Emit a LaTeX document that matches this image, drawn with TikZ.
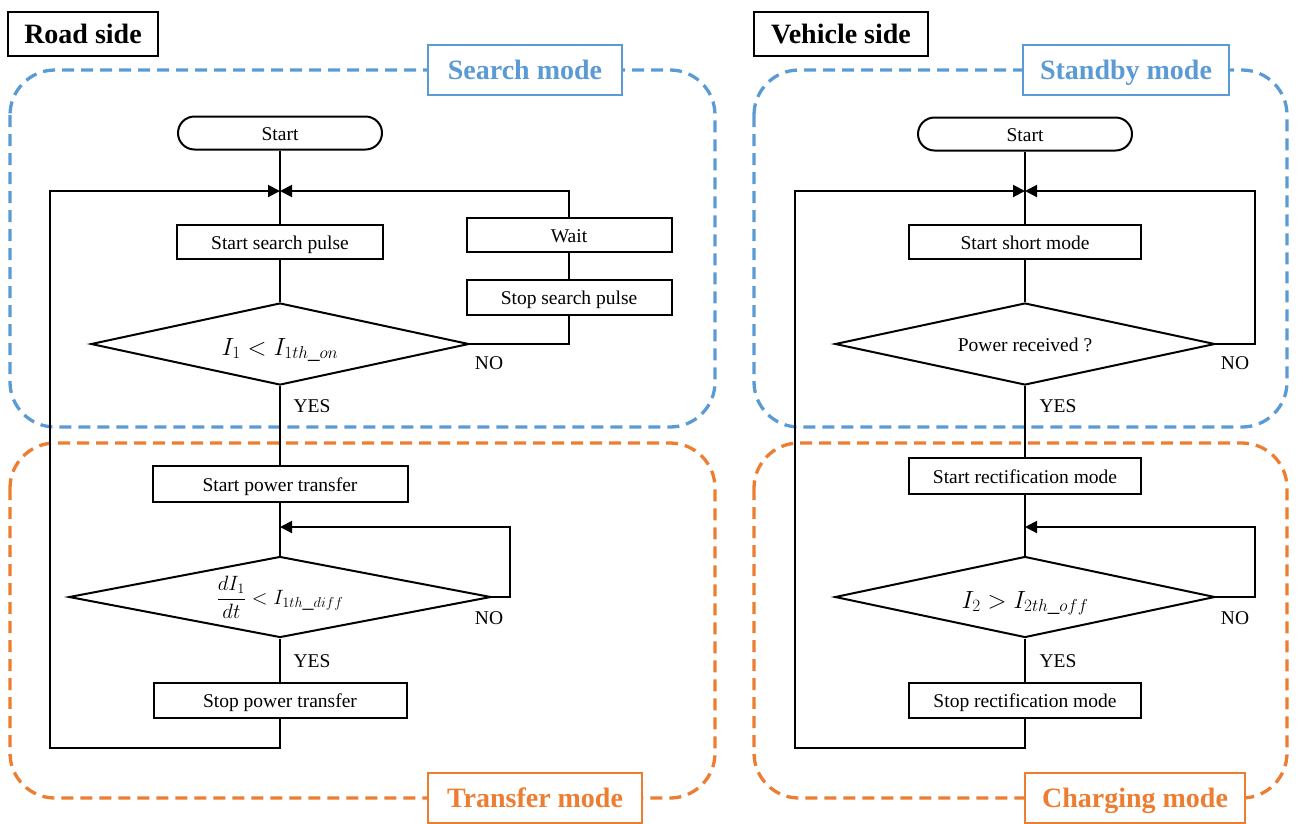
\documentclass[tikz,border=0pt]{standalone}
\usepackage{fontspec}
\setmainfont{Liberation Serif}
\usetikzlibrary{arrows.meta,shapes.geometric,shapes.misc}
\definecolor{modeblue}{HTML}{5B9BD5}
\definecolor{modeorange}{HTML}{ED7D31}
\begin{document}
\begin{tikzpicture}[x=1pt,y=-1pt,
  flow/.style={line width=2pt},
  tip/.style={-{Triangle[length=12pt,width=12pt]}},
  proc/.style={draw, line width=2pt, rectangle, inner sep=0pt,
    text height=14pt, text depth=0pt, font=\fontsize{19.5}{22}\selectfont},
  term/.style={draw, line width=2pt, rounded rectangle, inner sep=0pt,
    text height=14pt, text depth=0pt,
    minimum height=33pt, font=\fontsize{19.5}{22}\selectfont},
  dec/.style={draw, line width=2pt, diamond, aspect=4.6, inner sep=0pt,
    text height=14pt, text depth=0pt, font=\fontsize{19.5}{22}\selectfont},
  mathtxt/.style={font=\fontsize{23}{26}\selectfont},
  inlinemath/.style={text height=22pt, text depth=0pt},
  fracmath/.style={text height=, text depth=, font=\fontsize{22}{25}\selectfont},
  lbl/.style={font=\fontsize{19.5}{22}\selectfont, inner sep=0pt},
  sidebox/.style={draw, line width=2.5pt, inner sep=0pt, minimum height=44pt,
    text height=19pt, text depth=0pt, font=\fontsize{28}{32}\selectfont\bfseries},
  modelabel/.style={draw=#1, text=#1, fill=white, line width=2.5pt, inner sep=0pt,
    minimum height=50pt, text height=19pt, text depth=0pt,
    font=\fontsize{28}{32}\selectfont\bfseries},
  modebox/.style={draw=#1, line width=3.3pt, dash pattern=on 12pt off 7pt, rounded corners=45pt}
]
\useasboundingbox (0,0) rectangle (1303,823);

% ---------- mode regions ----------
\draw[modebox=modeblue]   (10,70)  rectangle (715,427);
\draw[modebox=modeorange] (10,443) rectangle (715,798);
\draw[modebox=modeblue]   (754,70)  rectangle (1287,427);
\draw[modebox=modeorange] (754,443) rectangle (1287,798);

% ---------- side titles ----------
\node[sidebox, minimum width=150pt] (road) at (83,34) {Road side};
\node[sidebox, minimum width=174pt] (veh) at (841,34) {Vehicle side};

% ---------- road side flow ----------
\node[term, minimum width=204pt] (L0) at (280,133) {Start};
\coordinate (Lj) at (280,191);
\node[proc, minimum width=206pt, minimum height=34pt] (L1) at (280,242) {Start search pulse};
\node[proc, minimum width=205pt, minimum height=34pt] (Lw) at (569,235) {Wait};
\node[proc, minimum width=205pt, minimum height=35pt] (Ls) at (569,297) {Stop search pulse};
\node[dec, mathtxt, inlinemath, minimum width=378pt, minimum height=82pt] (Ld1) at (280,344) {$I_1 < I_{1th\_on}$};
\node[proc, minimum width=255pt, minimum height=36pt] (L2) at (280,484) {Start power transfer};
\coordinate (Lj2) at (280,527);
\coordinate (Lr) at (510,527);
\node[dec, fracmath, minimum width=422pt, minimum height=81pt] (Ld2) at (280,597)
  {$\displaystyle\frac{dI_1}{dt} < I_{1th\_diff}$};
\node[proc, minimum width=253pt, minimum height=35pt] (L3) at (280,700) {Stop power transfer};
\coordinate (Lb) at (50,748);

\draw[flow] (L0) -- (L1);
\draw[flow] (L1) -- (Ld1);
\draw[flow] (Ld1) -- (L2);
\draw[flow] (L2) -- (Ld2);
\draw[flow] (Ld2) -- (L3);
\draw[flow] (Ld1.east) -| (Ls.south);
\draw[flow] (Ls) -- (Lw);
\draw[flow, tip] (Lw.north) |- (Lj);
\draw[flow, tip] (Ld2.east) -| (Lr) -- (Lj2);
\draw[flow, tip] (L3.south) |- (Lb) |- (Lj);

\node[lbl] (Lno1) at (489,363) {NO};
\node[lbl] (Lyes1) at (312,406) {YES};
\node[lbl] (Lno2) at (489,618) {NO};
\node[lbl] (Lyes2) at (312,661) {YES};

% ---------- vehicle side flow ----------
\node[term, minimum width=214pt] (R0) at (1025,134) {Start};
\coordinate (Rj) at (1025,191);
\node[proc, minimum width=232pt, minimum height=34pt] (R1) at (1025,242) {Start short mode};
\node[dec, minimum width=380pt, minimum height=82pt] (Rd1) at (1025,344) {Power received ?};
\coordinate (Rt) at (1255,191);
\node[proc, minimum width=232pt, minimum height=36pt] (R2) at (1025,476) {Start rectification mode};
\coordinate (Rj2) at (1025,527);
\coordinate (Rr) at (1255,527);
\node[dec, mathtxt, inlinemath, minimum width=380pt, minimum height=81pt] (Rd2) at (1025,597) {$I_2 > I_{2th\_off}$};
\node[proc, minimum width=232pt, minimum height=35pt] (R3) at (1025,700) {Stop rectification mode};
\coordinate (Rb) at (795,748);

\draw[flow] (R0) -- (R1);
\draw[flow] (R1) -- (Rd1);
\draw[flow] (Rd1) -- (R2);
\draw[flow] (R2) -- (Rd2);
\draw[flow] (Rd2) -- (R3);
\draw[flow, tip] (Rd1.east) -| (Rt) -- (Rj);
\draw[flow, tip] (Rd2.east) -| (Rr) -- (Rj2);
\draw[flow, tip] (R3.south) |- (Rb) |- (Rj);

\node[lbl] (Rno1) at (1235,363) {NO};
\node[lbl] (Ryes1) at (1058,406) {YES};
\node[lbl] (Rno2) at (1235,618) {NO};
\node[lbl] (Ryes2) at (1058,661) {YES};

% ---------- mode labels ----------
\node[modelabel=modeblue, minimum width=194pt] (search) at (525,70) {Search mode};
\node[modelabel=modeblue, minimum width=206pt] (standby) at (1126,70) {Standby mode};
\node[modelabel=modeorange, minimum width=214pt] (transfer) at (535,798) {Transfer mode};
\node[modelabel=modeorange, minimum width=220pt] (charging) at (1135,798) {Charging mode};
\end{tikzpicture}
\end{document}
